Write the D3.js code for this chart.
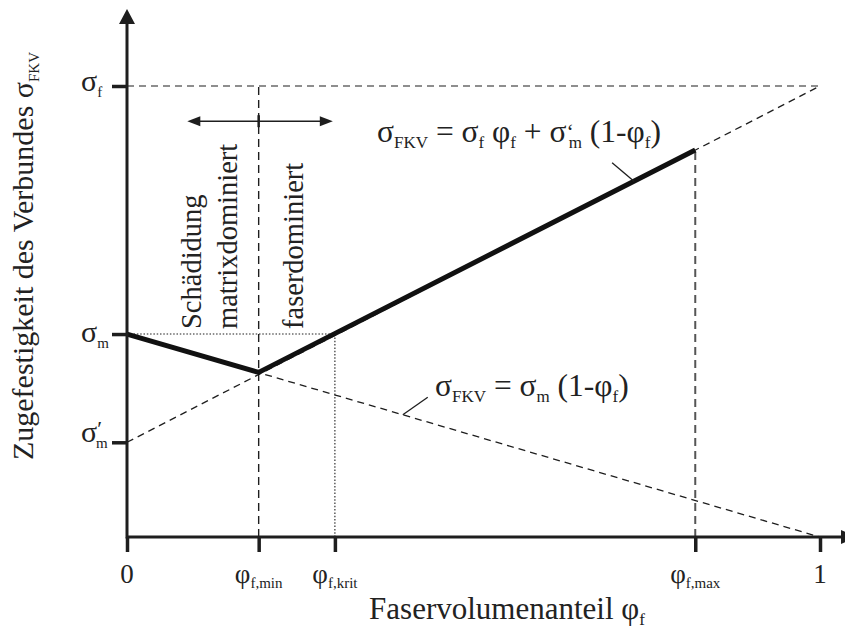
<!DOCTYPE html>
<html>
<head>
<meta charset="utf-8">
<script src="https://cdn.jsdelivr.net/npm/d3@7"></script>
<style>
  body { margin: 0; background: #fff; }
  text { font-family: "Liberation Serif", "Times New Roman", serif; fill: #222; }
</style>
</head>
<body>
<svg id="chart" width="845" height="628"></svg>
<script>
// Normalised quantities: fibre volume fraction φf in [0,1], strength relative to σf.
const phiTickValues = [0, 0.19, 0.30, 0.82, 1];
const phiTickLabels = [["0", ""], ["φ", "f,min"], ["φ", "f,krit"], ["φ", "f,max"], ["1", ""]];

const sigmaTickValues = [1.0, 0.45, 0.21];
const sigmaTickLabels = [["σ", "f", ""], ["σ", "m", ""], ["σ", "m", "′"]];

// Composite strength σFKV: matrix-dominated branch, then fibre-dominated branch up to φf,max
const compositeStrength = [[0, 0.45], [0.19, 0.365], [0.82, 0.858]];
// σFKV = σm (1-φf)
const matrixLine = [[0, 0.45], [1, 0]];
// σFKV = σf φf + σ'm (1-φf)
const fibreLine = [[0, 0.21], [1, 1.0]];
// Critical fibre content where the composite regains the matrix strength
const critPoint = [0.30, 0.45];

const svg = d3.select("#chart");
const ink = "#1e1e1e";

const x = d3.scaleLinear().domain([0, 1]).range([127, 820]);
const y = d3.scaleLinear().domain([0, 1]).range([537, 86]);
const line = d3.line().x(d => x(d[0])).y(d => y(d[1]));

// Rich text helper: parts with level 0 (normal), 1 (subscript), -1 (raised)
function rich(textSel, parts, size, subSize, subShift, supShift) {
  let offset = 0;
  parts.forEach(p => {
    const target = p.level === 1 ? subShift : p.level === -1 ? supShift : 0;
    const ts = textSel.append("tspan").text(p.t)
      .attr("font-size", p.level ? (p.size || subSize) : size)
      .attr("dy", target - offset);
    if (p.dx) ts.attr("dx", p.dx);
    offset = target;
  });
  return textSel;
}

// --- guide lines -------------------------------------------------------
const guides = svg.append("g").attr("fill", "none");

// σf level
guides.append("line")
  .attr("x1", x(0)).attr("x2", x(1))
  .attr("y1", y(sigmaTickValues[0])).attr("y2", y(sigmaTickValues[0]))
  .attr("stroke", ink).attr("stroke-width", 1.2).attr("stroke-dasharray", "7,5");

// σm level up to φf,krit (dotted)
guides.append("line")
  .attr("x1", x(0)).attr("x2", x(critPoint[0]))
  .attr("y1", y(critPoint[1])).attr("y2", y(critPoint[1]))
  .attr("stroke", ink).attr("stroke-width", 1.1).attr("stroke-dasharray", "1.5,1.8");

// φf,krit vertical (dotted)
guides.append("line")
  .attr("x1", x(critPoint[0])).attr("x2", x(critPoint[0]))
  .attr("y1", y(0)).attr("y2", y(critPoint[1]))
  .attr("stroke", ink).attr("stroke-width", 1.1).attr("stroke-dasharray", "1.5,1.8");

// φf,min vertical (dashed, up to σf)
guides.append("line")
  .attr("x1", x(phiTickValues[1])).attr("x2", x(phiTickValues[1]))
  .attr("y1", y(0)).attr("y2", y(sigmaTickValues[0]))
  .attr("stroke", ink).attr("stroke-width", 1.4).attr("stroke-dasharray", "8,5");

// φf,max vertical (dashed, up to the curve end)
guides.append("line")
  .attr("x1", x(phiTickValues[3])).attr("x2", x(phiTickValues[3]))
  .attr("y1", y(0)).attr("y2", y(compositeStrength[2][1]))
  .attr("stroke", "#555").attr("stroke-width", 2).attr("stroke-dasharray", "8,5");

// the two mixing-rule lines
[matrixLine, fibreLine].forEach(d => {
  guides.append("path").attr("d", line(d))
    .attr("stroke", ink).attr("stroke-width", 1.3).attr("stroke-dasharray", "7,5");
});

// --- composite strength curve -----------------------------------------
svg.append("path").attr("d", line(compositeStrength))
  .attr("fill", "none").attr("stroke", "#111").attr("stroke-width", 5)
  .attr("stroke-linejoin", "round");

// --- axes ------------------------------------------------------------
const axisG = svg.append("g");
axisG.append("line").attr("x1", x(0)).attr("x2", 842)
  .attr("y1", y(0)).attr("y2", y(0)).attr("stroke", ink).attr("stroke-width", 3);
axisG.append("path").attr("d", `M841,${y(0) - 7}L857,${y(0)}L841,${y(0) + 7}Z`).attr("fill", ink);
axisG.append("line").attr("x1", x(0)).attr("x2", x(0))
  .attr("y1", y(0) + 1.5).attr("y2", 22).attr("stroke", ink).attr("stroke-width", 3);
axisG.append("path").attr("d", `M${x(0) - 8},24L${x(0)},9L${x(0) + 8},24Z`).attr("fill", ink);

// x tick marks via d3 axis
const xAxis = svg.append("g").attr("transform", `translate(0,${y(0)})`)
  .call(d3.axisBottom(x).tickValues(phiTickValues).tickSize(15).tickFormat(""));
xAxis.select(".domain").remove();
xAxis.selectAll(".tick line").attr("stroke", ink).attr("stroke-width", 3.5);

// y tick marks via d3 axis
const yAxis = svg.append("g").attr("transform", `translate(${x(0)},0)`)
  .call(d3.axisLeft(y).tickValues(sigmaTickValues).tickSize(15).tickFormat(""));
yAxis.select(".domain").remove();
yAxis.selectAll(".tick line").attr("stroke", ink).attr("stroke-width", 3.5);

// x tick labels
phiTickValues.forEach((v, i) => {
  const [main, sub] = phiTickLabels[i];
  const t = svg.append("text").attr("x", x(v)).attr("y", 583)
    .attr("text-anchor", "middle");
  const parts = [{ t: main, level: 0 }];
  if (sub) parts.push({ t: sub, level: 1 });
  rich(t, parts, 27, 15, 5, 0);
});

// y tick labels (σ'm carries its prime above the subscript)
const yLabelShift = [5, 8, 0];
sigmaTickValues.forEach((v, i) => {
  const [main, sub, mark] = sigmaTickLabels[i];
  const t = svg.append("text").attr("x", 81).attr("y", y(v) + yLabelShift[i]);
  const parts = [{ t: main, level: 0 }];
  if (mark) parts.push({ t: mark, level: -1, size: 22, dx: 0 });
  parts.push({ t: sub, level: 1, dx: mark ? -6 : 0 });
  rich(t, parts, 30, 15, 6, -6);
});

// axis titles
rich(svg.append("text").attr("x", 507).attr("y", 619).attr("text-anchor", "middle"),
  [{ t: "Faservolumenanteil φ", level: 0 }, { t: "f", level: 1 }], 31, 17, 6, 0);

rich(svg.append("text").attr("transform", "translate(33,256) rotate(-90)")
    .attr("text-anchor", "middle"),
  [{ t: "Zugefestigkeit des Verbundes σ", level: 0 }, { t: "FKV", level: 1 }], 30, 15, 6, 0);

// --- formulas and leaders -------------------------------------------
rich(svg.append("text").attr("x", 377).attr("y", 142), [
  { t: "σ", level: 0 }, { t: "FKV", level: 1 },
  { t: " = σ", level: 0 }, { t: "f", level: 1 },
  { t: " φ", level: 0 }, { t: "f", level: 1 },
  { t: " + σ", level: 0 }, { t: "‘", level: -1, size: 22 }, { t: "m", level: 1, dx: -5 },
  { t: " (1-φ", level: 0 }, { t: "f", level: 1 }, { t: ")", level: 0 }
], 31.5, 17, 6, -3);

rich(svg.append("text").attr("x", 435).attr("y", 396), [
  { t: "σ", level: 0 }, { t: "FKV", level: 1 },
  { t: " = σ", level: 0 }, { t: "m", level: 1 },
  { t: " (1-φ", level: 0 }, { t: "f", level: 1 }, { t: ")", level: 0 }
], 31.5, 17, 6, 0);

const leaders = [
  [[0.70, 0.83], [0.732, 0.788]],
  [[0.434, 0.31], [0.398, 0.271]]
];
leaders.forEach(d => {
  svg.append("path").attr("d", line(d)).attr("stroke", ink)
    .attr("stroke-width", 1.3).attr("fill", "none");
});

// --- damage regime annotation ---------------------------------------
const regime = { from: 0.087, to: 0.297, level: 0.922 };
const ay = y(regime.level);
const ax1 = x(regime.from), ax2 = x(regime.to);
svg.append("line").attr("x1", ax1 + 10).attr("x2", ax2 - 10).attr("y1", ay).attr("y2", ay)
  .attr("stroke", ink).attr("stroke-width", 1.6);
svg.append("path").attr("d", `M${ax1},${ay}L${ax1 + 13},${ay - 5}L${ax1 + 13},${ay + 5}Z`).attr("fill", ink);
svg.append("path").attr("d", `M${ax2},${ay}L${ax2 - 13},${ay - 5}L${ax2 - 13},${ay + 5}Z`).attr("fill", ink);
svg.append("line").attr("x1", x(phiTickValues[1])).attr("x2", x(phiTickValues[1]))
  .attr("y1", ay - 6).attr("y2", ay + 6).attr("stroke", ink).attr("stroke-width", 2.5);

[["Schädidung", 201], ["matrixdominiert", 237], ["faserdominiert", 303]].forEach(([label, bx]) => {
  svg.append("text").attr("transform", `translate(${bx},329) rotate(-90)`)
    .attr("font-size", 28.5).text(label);
});
</script>
</body>
</html>
